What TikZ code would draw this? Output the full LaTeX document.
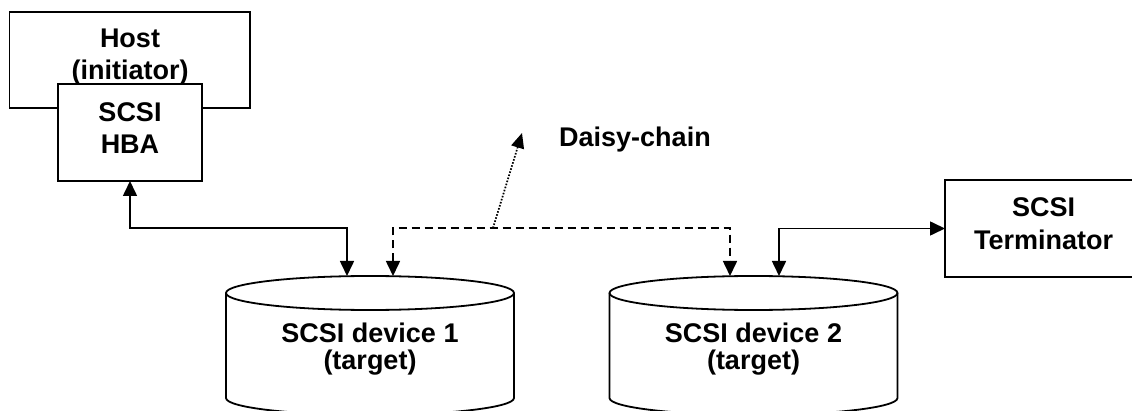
\documentclass[tikz,border=0pt]{standalone}
\usepackage{fontspec}
\setmainfont{Liberation Sans}
\usetikzlibrary{arrows.meta}
\begin{document}
\begin{tikzpicture}[x=1pt,y=1pt,
  box/.style={draw=black, line width=1.8pt, fill=white, inner sep=0pt, outer sep=0pt},
  cylbody/.style={inner sep=0pt, outer sep=0pt, minimum width=288pt, minimum height=139pt},
  cyl/.style={draw=black, line width=1.8pt, fill=white},
  txt/.style={font=\fontsize{27}{32}\selectfont\bfseries, inner sep=0pt, anchor=base},
  conn/.style={line width=1.6pt, {Triangle[length=15pt,width=14pt]}-{Triangle[length=15pt,width=14pt]}},
  dashconn/.style={conn, dash pattern=on 8pt off 5pt},
  dotconn/.style={line width=1.7pt, dash pattern=on 1.6pt off 1.6pt, -{Triangle[length=15pt,width=13pt]}}
]
\useasboundingbox (0,0) rectangle (1132,-411);
% Host
\node[box, minimum width=240.5pt, minimum height=96pt] (host) at (129.75,-60) {};
\node[txt] (hostl1) at (130,-48) {Host};
\node[txt] (hostl2) at (130,-80) {(initiator)};
% HBA
\node[box, minimum width=144pt, minimum height=97pt] (hba) at (130,-132.5) {};
\node[txt] (hbal1) at (130,-121.7) {SCSI};
\node[txt] (hbal2) at (130,-154) {HBA};
% Terminator
\node[box, minimum width=197pt, minimum height=97pt] (term) at (1043.5,-228.5) {};
\node[txt] (terml1) at (1043.5,-217) {SCSI};
\node[txt] (terml2) at (1043.5,-250) {Terminator};
% Cylinders
\node[cylbody] (dev1) at (370,-345.5) {};
\node[cylbody] (dev2) at (753.5,-345.5) {};
\foreach \d in {dev1,dev2}{
  \draw[cyl] ([yshift=-17pt]\d.north west) -- ([yshift=17pt]\d.south west)
     arc[start angle=180,end angle=360,x radius=144pt,y radius=17pt]
     -- ([yshift=-17pt]\d.north east)
     arc[start angle=0,end angle=180,x radius=144pt,y radius=17pt] -- cycle;
  \draw[cyl, fill=none] ([yshift=-17pt]\d.north west)
     arc[start angle=180,end angle=360,x radius=144pt,y radius=17pt];
}
\node[txt] (dev1l1) at (370,-343) {SCSI device 1};
\node[txt] (dev1l2) at (370,-370) {(target)};
\node[txt] (dev2l1) at (753.5,-343) {SCSI device 2};
\node[txt] (dev2l2) at (753.5,-370) {(target)};
% Daisy-chain label
\node[txt, anchor=base west] (daisy) at (559,-147) {Daisy-chain};
% Connectors
\draw[conn] (hba.south) -- ++(0,-47) -| ([xshift=-23pt]dev1.north);
\draw[dashconn] ([xshift=23pt]dev1.north) -- ++(0,48) -| ([xshift=-23.5pt]dev2.north);
\draw[conn] ([xshift=25.5pt]dev2.north) |- (term.west);
\coordinate (dstart) at (493,-228);
\coordinate (dtip) at (522,-133);
\draw[dotconn] (dstart) -- (dtip);
\end{tikzpicture}
\end{document}
